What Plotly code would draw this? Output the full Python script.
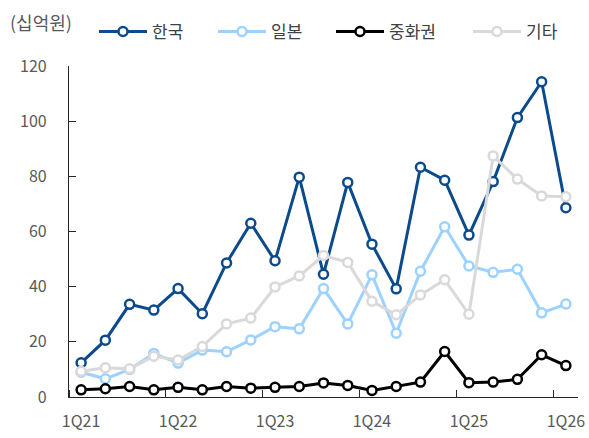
import plotly.graph_objects as go

quarters = ["1Q21","2Q21","3Q21","4Q21","1Q22","2Q22","3Q22","4Q22",
            "1Q23","2Q23","3Q23","4Q23","1Q24","2Q24","3Q24","4Q24",
            "1Q25","2Q25","3Q25","4Q25","1Q26"]
tick_labels = ["1Q21","1Q22","1Q23","1Q24","1Q25","1Q26"]

korea = [12.4, 20.6, 33.6, 31.5, 39.3, 30.2, 48.6, 63.0, 49.4, 79.7, 44.5,
         77.8, 55.4, 39.2, 83.3, 78.6, 58.7, 78.1, 101.3, 114.3, 68.6]
japan = [9.0, 6.6, 10.0, 15.8, 12.3, 17.0, 16.4, 20.7, 25.5, 24.7, 39.3,
         26.5, 44.3, 23.1, 45.6, 61.7, 47.5, 45.2, 46.3, 30.5, 33.7]
china = [2.6, 3.0, 3.8, 2.6, 3.5, 2.6, 3.8, 3.2, 3.5, 3.8, 5.1,
         4.2, 2.4, 3.8, 5.4, 16.5, 5.2, 5.4, 6.4, 15.3, 11.4]
others = [9.3, 10.6, 10.2, 14.8, 13.4, 18.3, 26.5, 28.6, 39.9, 43.9, 51.3,
          48.8, 34.7, 29.8, 37.0, 42.5, 30.0, 87.4, 79.0, 72.9, 72.6]

series = [("한국", korea, "#0B4A8B"), ("일본", japan, "#9DD1FF"),
          ("중화권", china, "#000000"), ("기타", others, "#D9D9D9")]
legend_left_px = [94, 213, 331, 468]

L_MARGIN, PLOT_W = 69, 509

xs = list(range(len(quarters)))
fig = go.Figure()
legend_layouts = {}
for i, (name, vals, col) in enumerate(series):
    lname = "legend" if i == 0 else f"legend{i + 1}"
    fig.add_trace(go.Scatter(
        x=xs, y=vals, name=name, mode="lines+markers",
        line=dict(color=col, width=3),
        marker=dict(symbol="circle", size=9, color="white",
                    line=dict(color=col, width=2.5)),
        customdata=quarters, legend=lname,
    ))
    legend_layouts[lname] = dict(
        orientation="h", x=(legend_left_px[i] - L_MARGIN) / PLOT_W,
        xref="paper", y=1 - 32 / 438, yref="container", yanchor="middle",
        xanchor="left", font=dict(size=17, color="#404040"),
        itemwidth=48, bgcolor="rgba(0,0,0,0)")

fig.update_layout(
    width=589, height=438,
    margin=dict(l=L_MARGIN, r=11, t=66, b=41),
    paper_bgcolor="white", plot_bgcolor="white",
    font=dict(family="Noto Sans CJK KR", size=16, color="#595959"),
    showlegend=True,
    **legend_layouts,
)
fig.add_annotation(text="(십억원)", x=(8 - L_MARGIN) / PLOT_W, xref="paper",
                   xanchor="left", y=(397.5 - 22) / 331.5, yref="paper",
                   yanchor="middle", showarrow=False,
                   font=dict(size=18, color="#595959"))

fig.update_xaxes(
    range=[-0.5, 20.5], tickmode="array", tickvals=[0, 4, 8, 12, 16, 20],
    ticktext=tick_labels, ticks="", showgrid=False, zeroline=False,
    showline=True, linecolor="#262626", linewidth=1.3, automargin=False,
    ticklabelstandoff=10,
    tickfont=dict(size=16, color="#595959"),
    minor=dict(tick0=3.5, dtick=4, ticks="inside", ticklen=7,
               tickcolor="#262626", tickwidth=1.3, showgrid=False),
)
fig.update_yaxes(
    range=[0, 120], tickvals=[0, 20, 40, 60, 80, 100, 120],
    ticks="inside", ticklen=7, tickcolor="#262626", tickwidth=1.3,
    showgrid=False, zeroline=False, showline=True, linecolor="#262626",
    linewidth=1.3, automargin=False, ticklabelstandoff=18,
    tickfont=dict(size=16, color="#595959"),
)

fig.write_html("out.html", config={"displayModeBar": False},
               post_script="document.body.style.margin='0';"
                           "document.body.style.padding='0';")
